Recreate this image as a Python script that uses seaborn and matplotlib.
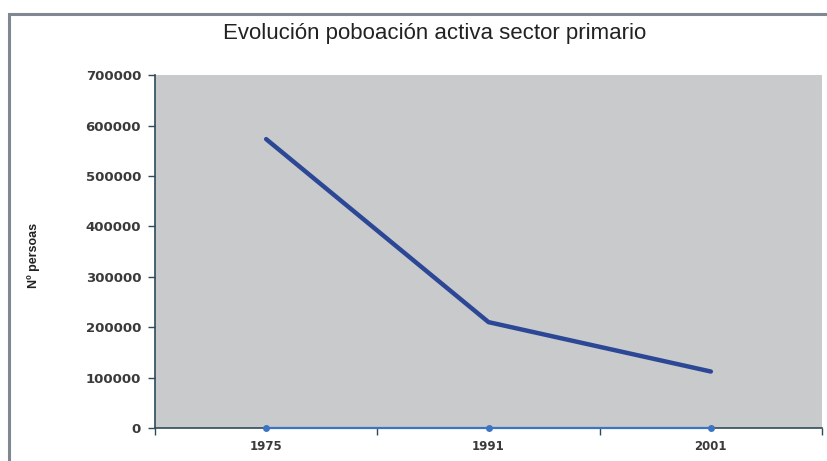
import matplotlib
matplotlib.use("Agg")
import matplotlib.pyplot as plt
import seaborn as sns
import pandas as pd
from matplotlib.patches import Rectangle
from matplotlib.ticker import FixedLocator

years = ["1975", "1991", "2001"]
activos = [573000, 210000, 112000]
serie_cero = [0, 0, 0]
yticks = [0, 100000, 200000, 300000, 400000, 500000, 600000, 700000]

sns.set_theme(style="white")
plt.rcParams['font.family'] = ['DejaVu Sans']

fig = plt.figure(figsize=(8.27, 4.61), dpi=100)
ax = fig.add_axes([0.1874, 0.0716, 0.8066, 0.7655])
ax.set_facecolor("#c9cacc")

df = pd.DataFrame({"year": years, "activos": activos, "cero": serie_cero})
sns.lineplot(data=df, x="year", y="activos", ax=ax, color="#2b4796", linewidth=3.2, sort=False)
sns.lineplot(data=df, x="year", y="cero", ax=ax, color="#3a74c2", linewidth=1.6,
             marker="o", markersize=5, markeredgewidth=0, sort=False)
for ln in ax.lines:
    ln.set_clip_on(False)
    ln.set_zorder(5)

ax.set_xlim(-0.5, 2.5)
ax.set_ylim(0, 700000)
ax.set_yticks(yticks)
ax.set_yticklabels([str(v) for v in yticks], fontsize=9.5, fontweight="bold", color="#3a3a3a")
ax.set_xticks(range(len(years)))
ax.set_xticklabels(years, fontsize=8.5, fontweight="bold", color="#3a3a3a")
ax.xaxis.set_minor_locator(FixedLocator([-0.5, 0.5, 1.5, 2.5]))
ax.tick_params(axis="x", which="major", length=0, pad=9)
ax.tick_params(axis="x", which="minor", length=5, width=1, color="#2f4a5a", direction="out", bottom=True)
ax.tick_params(axis="y", which="major", length=5, width=1, color="#2f4a5a", direction="out", left=True, pad=5)

for s in ["top", "right"]:
    ax.spines[s].set_visible(False)
for s in ["left", "bottom"]:
    ax.spines[s].set_color("#2f4a5a")
    ax.spines[s].set_linewidth(1.2)

ax.set_xlabel("")
ax.set_ylabel("Nº persoas", fontsize=9, fontweight="bold", color="#222222",
              family=["Liberation Sans", "DejaVu Sans"])
ax.yaxis.set_label_coords(-0.172, 0.49)

fig.text(0.526, 0.928, "Evolución poboación activa sector primario", ha="center", va="center",
         fontsize=16, family=["Liberation Sans", "DejaVu Sans"], color="#222222")

# outer chart frame
fig.patches.append(Rectangle((0.011, -0.05), 1.2, 1.02, transform=fig.transFigure,
                             fill=False, edgecolor="#7f8891", linewidth=2.2))

fig.savefig("out.png", dpi=100)
